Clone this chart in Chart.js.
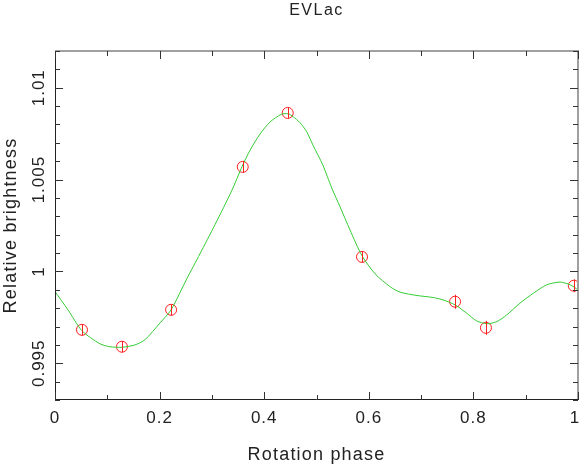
<!DOCTYPE html>
<html>
<head>
<meta charset="utf-8">
<script src="https://cdn.jsdelivr.net/npm/chart.js@4/dist/chart.umd.min.js"></script>
<style>
html,body{margin:0;padding:0;background:#fff;}
canvas{display:block;}
</style>
</head>
<body>
<canvas id="c" width="580" height="466"></canvas>
<script>
// Observed data points
const phases = [0.0516, 0.128, 0.222, 0.359, 0.445, 0.587, 0.765, 0.824, 0.992];
const brightness = [0.99682, 0.99590, 0.99791, 1.00569, 1.00863, 1.00079, 0.99835, 0.99693, 0.99922];
const errors = [0.0003, 0.0003, 0.0003, 0.00033, 0.0003, 0.0003, 0.00038, 0.00038, 0.00035];

// Model curve
const curvePhase = [0, 0.025, 0.0516, 0.086, 0.105, 0.128, 0.153, 0.172, 0.201, 0.222, 0.252, 0.277, 0.306, 0.338, 0.358, 0.373, 0.392, 0.411, 0.433, 0.446, 0.455, 0.468, 0.481, 0.493, 0.512, 0.529, 0.545, 0.564, 0.587, 0.612, 0.641, 0.660, 0.692, 0.723, 0.742, 0.765, 0.787, 0.806, 0.826, 0.845, 0.864, 0.889, 0.915, 0.940, 0.966, 0.985, 1.0];
const curveValue = [0.99891, 0.99790, 0.99677, 0.99606, 0.99590, 0.99587, 0.99600, 0.99628, 0.99720, 0.99791, 0.99960, 1.00095, 1.00255, 1.00440, 1.00573, 1.00660, 1.00748, 1.00813, 1.00856, 1.00858, 1.00843, 1.00811, 1.00762, 1.00689, 1.00580, 1.00455, 1.00352, 1.00226, 1.00085, 0.99987, 0.99916, 0.99887, 0.99869, 0.99858, 0.99845, 0.99818, 0.99773, 0.99731, 0.99715, 0.99727, 0.99764, 0.99827, 0.99882, 0.99927, 0.99942, 0.99927, 0.99900];

// Axis ticks
const xTickValues = [0, 0.2, 0.4, 0.6, 0.8, 1];
const xTickLabels = ['0', '0.2', '0.4', '0.6', '0.8', '1'];
const xMinorStep = 0.1;
const yTickValues = [0.995, 1, 1.005, 1.01];
const yTickLabels = ['0.995', '1', '1.005', '1.01'];
const yMinorStep = 0.001;

const titleText = 'EVLac';
const xTitle = 'Rotation phase';
const yTitle = 'Relative brightness';

const FONT = '"Liberation Sans", Arial, sans-serif';

const framePlugin = {
  id: 'frame',
  afterDatasetsDraw(chart) {
    const ctx = chart.ctx;
    const a = chart.chartArea;
    const xs = chart.scales.x, ys = chart.scales.y;
    ctx.save();
    // error bars
    ctx.strokeStyle = '#ff2020';
    ctx.lineWidth = 1;
    for (let i = 0; i < phases.length; i++) {
      const px = Math.round(xs.getPixelForValue(phases[i])) + 0.5;
      ctx.beginPath();
      ctx.moveTo(px, ys.getPixelForValue(brightness[i] - errors[i]));
      ctx.lineTo(px, ys.getPixelForValue(brightness[i] + errors[i]));
      ctx.stroke();
    }
    // frame
    ctx.strokeStyle = '#a0a0a0';
    ctx.lineWidth = 2;
    ctx.beginPath();
    ctx.moveTo(a.left, a.top); ctx.lineTo(a.right, a.top); ctx.lineTo(a.right, a.bottom);
    ctx.stroke();
    ctx.strokeStyle = '#222';
    ctx.lineWidth = 1;
    ctx.beginPath();
    ctx.moveTo(a.left + 0.5, a.top); ctx.lineTo(a.left + 0.5, a.bottom - 0.5); ctx.lineTo(a.right, a.bottom - 0.5);
    ctx.stroke();
    // ticks
    ctx.strokeStyle = '#333';
    ctx.lineWidth = 1;
    const isMajor = (v, list) => list.some(t => Math.abs(t - v) < 1e-9);
    for (let k = 0; k <= 10; k++) {
      const v = k * xMinorStep;
      const len = isMajor(v, xTickValues) ? 8 : 5;
      const px = Math.round(xs.getPixelForValue(v)) + 0.5;
      ctx.beginPath();
      ctx.moveTo(px, a.bottom); ctx.lineTo(px, a.bottom - len);
      ctx.moveTo(px, a.top); ctx.lineTo(px, a.top + len);
      ctx.stroke();
    }
    for (let k = 0; k <= 19; k++) {
      const v = 0.993 + k * yMinorStep;
      const len = isMajor(v, yTickValues) ? 8 : 5;
      const py = Math.round(ys.getPixelForValue(v)) + 0.5;
      ctx.beginPath();
      ctx.moveTo(a.left, py); ctx.lineTo(a.left + len, py);
      ctx.moveTo(a.right, py); ctx.lineTo(a.right - len, py);
      ctx.stroke();
    }
    // labels
    ctx.fillStyle = '#222';
    ctx.font = '17px ' + FONT;
    ctx.letterSpacing = '1px';
    ctx.textAlign = 'center';
    ctx.textBaseline = 'alphabetic';
    xTickValues.forEach((v, i) => {
      let px = xs.getPixelForValue(v);
      if (i === xTickValues.length - 1) px -= 3;
      ctx.fillText(xTickLabels[i], px, 423);
    });
    yTickValues.forEach((v, i) => {
      const py = ys.getPixelForValue(v);
      ctx.save();
      ctx.translate(44, py);
      ctx.rotate(-Math.PI / 2);
      ctx.fillText(yTickLabels[i], 0, 0);
      ctx.restore();
    });
    ctx.font = '18px ' + FONT;
    ctx.letterSpacing = '1.2px';
    ctx.fillText(xTitle, (a.left + a.right) / 2, 460);
    ctx.save();
    ctx.translate(16, (a.top + a.bottom) / 2);
    ctx.rotate(-Math.PI / 2);
    ctx.fillText(yTitle, 0, 0);
    ctx.restore();
    ctx.font = '16px ' + FONT;
    ctx.letterSpacing = '1.5px';
    ctx.fillText(titleText, (a.left + a.right) / 2, 15);
    ctx.restore();
  }
};

new Chart(document.getElementById('c'), {
  type: 'scatter',
  data: {
    datasets: [
      {
        label: 'model',
        data: curvePhase.map((p, i) => ({x: p, y: curveValue[i]})),
        showLine: true,
        borderColor: '#33cc33',
        borderWidth: 1,
        pointRadius: 0,
        tension: 0.25,
        fill: false
      },
      {
        label: 'observed',
        data: phases.map((p, i) => ({x: p, y: brightness[i]})),
        pointStyle: 'circle',
        pointRadius: 5.5,
        pointBorderColor: '#ff2020',
        pointBackgroundColor: 'rgba(0,0,0,0)',
        pointBorderWidth: 1,
        borderColor: '#ff2020',
        backgroundColor: 'rgba(0,0,0,0)'
      }
    ]
  },
  options: {
    responsive: false,
    animation: false,
    events: [],
    layout: {autoPadding: false, padding: {left: 55, top: 51, right: 2, bottom: 66}},
    plugins: {legend: {display: false}, tooltip: {enabled: false}, title: {display: false}},
    scales: {
      x: {type: 'linear', min: 0, max: 1, display: false},
      y: {type: 'linear', min: 0.993, max: 1.012, display: false}
    }
  },
  plugins: [framePlugin]
});
</script>
</body>
</html>
